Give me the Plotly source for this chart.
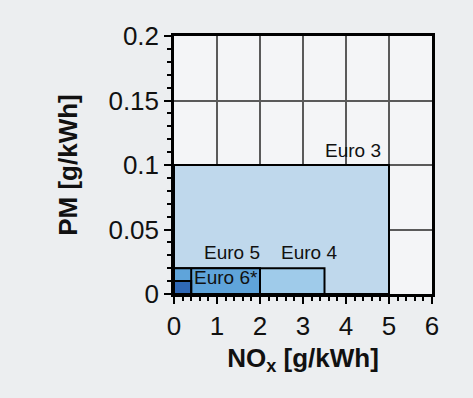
import plotly.graph_objects as go

# Euro emission limits for heavy-duty engines (NOx vs PM, g/kWh)
stages = ["Euro 3", "Euro 4", "Euro 5", "Euro 6*"]
nox_limit = [5.0, 3.5, 2.0, 0.4]
pm_limit = [0.1, 0.02, 0.02, 0.01]
fill_colors = ["#bfd8ec", "#9fcbea", "#5fa4da", "#2f68b6"]

# label anchor points in data units
label_x = [4.85, 3.15, 1.35, 1.2]
label_y = [0.1115, 0.032, 0.032, 0.0125]
label_anchor = ["right", "center", "center", "center"]

x_ticks = [0, 1, 2, 3, 4, 5, 6]
y_ticks = [0, 0.05, 0.1, 0.15, 0.2]
y_tick_text = ["0", "0.05", "0.1", "0.15", "0.2"]

FONT = "Liberation Sans, Arial, Helvetica"

fig = go.Figure()

# invisible trace so the axes are drawn
fig.add_trace(go.Scatter(x=[0, 6], y=[0, 0.2], mode="markers",
                         marker=dict(opacity=0), hoverinfo="skip", showlegend=False))

shapes = []
for name, nx, pm, col in zip(stages, nox_limit, pm_limit, fill_colors):
    shapes.append(dict(type="rect", xref="x", yref="y", x0=0, y0=0, x1=nx, y1=pm,
                       fillcolor=col, line=dict(color="black", width=2), layer="above"))
# Euro 6 boundary carried up to the Euro 5 PM limit
shapes.append(dict(type="line", xref="x", yref="y", x0=nox_limit[3], x1=nox_limit[3],
                   y0=0, y1=pm_limit[2], line=dict(color="black", width=2), layer="above"))

annotations = []
for name, lx, ly, anc in zip(stages, label_x, label_y, label_anchor):
    annotations.append(dict(x=lx, y=ly, xref="x", yref="y", text=name, showarrow=False,
                            xanchor=anc, yanchor="middle",
                            font=dict(family=FONT, size=19, color="#111")))

fig.update_layout(
    width=473, height=398,
    margin=dict(l=174, r=41, t=36, b=104),
    paper_bgcolor="#eceef0",
    plot_bgcolor="#f4f5f7",
    shapes=shapes,
    annotations=annotations,
    showlegend=False,
    font=dict(family=FONT, color="#111"),
)

fig.update_xaxes(
    range=[0, 6], tickvals=x_ticks, ticks="outside", ticklen=7, tickwidth=2,
    tickcolor="black", tickfont=dict(family=FONT, size=26, color="#111"),
    showgrid=True, gridcolor="#5a5a5a", gridwidth=1.5,
    showline=True, linecolor="black", linewidth=2.5, mirror=True,
    zeroline=False,
    minor=dict(dtick=0.2, ticks="outside", ticklen=4, tickwidth=2, tickcolor="black", showgrid=False),
    title=dict(text="<b>NO<sub>x</sub> [g/kWh]</b>", font=dict(family=FONT, size=26, color="#111"), standoff=9),
)
fig.update_yaxes(
    range=[0, 0.2], tickvals=y_ticks, ticktext=y_tick_text, ticks="outside", ticklen=7,
    tickwidth=2, tickcolor="black", tickfont=dict(family=FONT, size=26, color="#111"),
    showgrid=True, gridcolor="#5a5a5a", gridwidth=1.5,
    showline=True, linecolor="black", linewidth=2.5, mirror=True,
    zeroline=False,
    minor=dict(dtick=0.01, ticks="outside", ticklen=4, tickwidth=2, tickcolor="black", showgrid=False),
    title=dict(text="<b>PM [g/kWh]</b>", font=dict(family=FONT, size=26, color="#111"), standoff=24),
)

fig.write_html("out.html")
